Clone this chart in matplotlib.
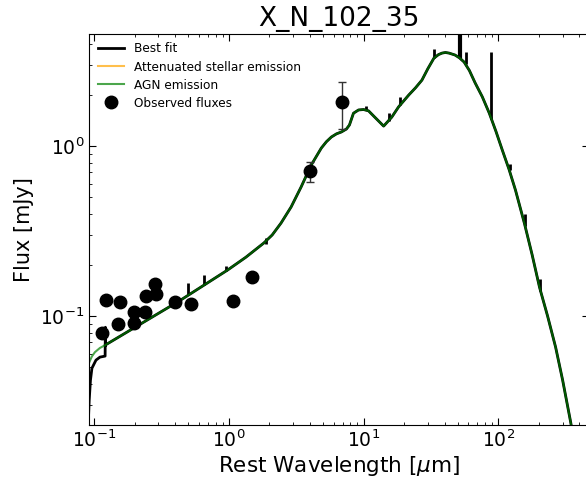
import numpy as np
import matplotlib
matplotlib.use("Agg")
import matplotlib.pyplot as plt

# model continuum (AGN emission)
agn_wl = [0.0905, 0.0918, 0.0966, 0.1017, 0.1108, 0.121, 0.438, 0.984, 1.34,
          1.82, 2.1, 2.44, 2.90, 3.44, 4.09, 4.86, 5.3, 5.77, 6.3, 6.85, 7.47,
          7.86, 8.42, 9.18, 10.0, 10.9, 12.1, 14.1, 16.2, 18.2, 21.7, 24.3,
          27.1, 30.0, 33.3, 36.0, 38.2, 40.5, 43.1, 47.7, 51.5, 55.7, 61.0,
          67.3, 76.0, 85.7, 96.0, 107, 120, 134, 156, 178, 202, 232, 266, 300,
          344, 400]
agn_flux = [0.050, 0.053, 0.058, 0.0614, 0.065, 0.0675, 0.124, 0.187, 0.222,
            0.269, 0.300, 0.352, 0.438, 0.574, 0.773, 0.973, 1.06, 1.13, 1.18,
            1.21, 1.26, 1.33, 1.56, 1.63, 1.64, 1.61, 1.48, 1.31, 1.48, 1.70,
            2.0, 2.2, 2.44, 2.85, 3.29, 3.45, 3.52, 3.55, 3.52, 3.43, 3.30,
            3.12, 2.78, 2.35, 1.95, 1.56, 1.22, 0.947, 0.73, 0.551, 0.352,
            0.23, 0.148, 0.100, 0.0657, 0.042, 0.0238, 0.012]

# best fit below the AGN curve at short wavelengths (Ly-alpha region)
fit_uv_wl = [0.0900, 0.0922, 0.0942, 0.0966, 0.1035, 0.1108, 0.1210, 0.1216, 0.1220]
fit_uv_flux = [0.020, 0.032, 0.042, 0.0494, 0.0551, 0.0574, 0.0582, 0.086, 0.0670]

# emission lines in the best fit: wavelength, continuum level, peak
line_wl = [0.5007, 0.6563, 0.9531, 1.875, 10.5, 15.5, 18.7, 33.5, 51.8, 57.3,
           88.4, 121.9, 157.7, 205.0]
line_base = [0.134, 0.153, 0.184, 0.265, 1.62, 1.40, 1.75, 3.30, 3.30, 3.05,
             1.45, 0.72, 0.34, 0.14]
line_peak = [0.156, 0.174, 0.197, 0.287, 1.72, 1.56, 1.95, 3.70, 8.0, 3.55,
             3.55, 0.78, 0.40, 0.165]

# attenuated stellar emission (falls below the plotted range)
star_wl = [0.09, 0.3, 1.0, 3.0, 10.0, 30.0, 100.0, 400.0]
star_flux = [0.004, 0.006, 0.008, 0.005, 0.001, 0.0002, 0.00005, 0.00001]

# observed fluxes
obs_wl = [0.1141, 0.1229, 0.1518, 0.1563, 0.1989, 0.1989, 0.2404, 0.2445,
          0.2851, 0.290, 0.402, 0.5205, 1.077, 1.476, 4.02, 6.97]
obs_flux = [0.0791, 0.124, 0.0893, 0.1214, 0.0906, 0.106, 0.106, 0.1316,
            0.1543, 0.1347, 0.1204, 0.1177, 0.123, 0.169, 0.713, 1.82]
obs_err = [0, 0, 0, 0, 0, 0, 0, 0, 0, 0, 0, 0, 0, 0, 0.095, 0.56]

fig = plt.figure(figsize=(5.86, 4.8), dpi=100)
ax = fig.add_axes([0.152, 0.1146, 0.853, 0.8146])

fit_wl = fit_uv_wl + agn_wl[5:]
fit_flux = fit_uv_flux + agn_flux[5:]
ax.plot(fit_wl, fit_flux, color="black", lw=2, label="Best fit")
ax.vlines(line_wl, line_base, line_peak, color="black", lw=2)
ax.vlines([51.8], [3.3], [8.0], color="black", lw=3)
ax.plot(star_wl, star_flux, color="orange", lw=1.5, alpha=0.7,
        label="Attenuated stellar emission")
ax.plot(agn_wl, agn_flux, color="g", lw=1.5, alpha=0.7, label="AGN emission")

ax.errorbar(obs_wl, obs_flux, yerr=obs_err, fmt="none", ecolor="#333333",
            elinewidth=1, capsize=3)
ax.plot(obs_wl, obs_flux, "o", color="black", ms=9, label="Observed fluxes")

ax.set_xscale("log")
ax.set_yscale("log")
ax.set_xlim(0.092, 470)
ax.set_ylim(0.0229, 4.56)
ax.tick_params(which="both", direction="in", top=True, right=True, labelsize=13.5)
ax.tick_params(which="major", length=5)
ax.tick_params(which="minor", length=2.5)
ax.set_xlabel(r"Rest Wavelength [$\mu$m]", fontsize=15.5, labelpad=2)
ax.set_ylabel("Flux [mJy]", fontsize=15)
ax.set_title("X_N_102_35", fontsize=19)
ax.legend(loc="upper left", frameon=False, fontsize=8.7, handlelength=2.2,
          labelspacing=0.42, borderaxespad=0.3, numpoints=1)

fig.savefig("out.png", dpi=100)
